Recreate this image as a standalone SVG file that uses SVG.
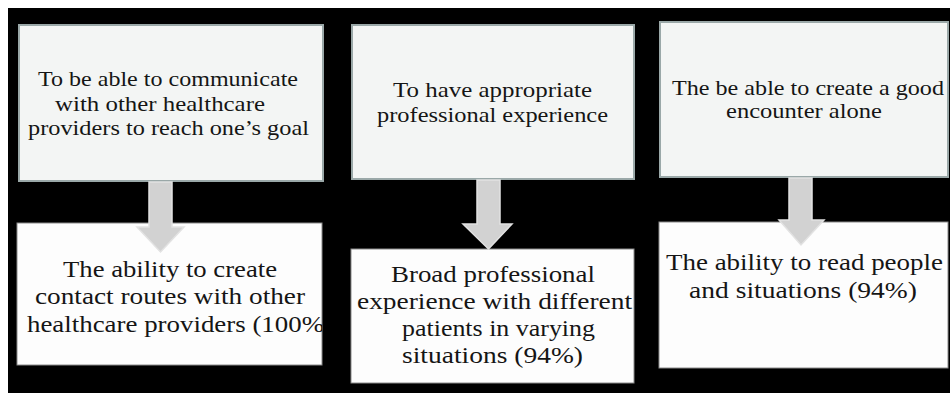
<svg xmlns="http://www.w3.org/2000/svg" width="950" height="393" viewBox="0 0 950 393">
  <defs>
    <style>
      .goal { fill: #f3f5f4; stroke: #9aa8a8; stroke-width: 2; }
      .skill { fill: #fdfdfd; stroke: #8a8a8a; stroke-width: 1; }
      .arrow { fill: #d2d2d2; stroke: #e2e2e2; stroke-width: 1.5; stroke-linejoin: miter; }
      text { font-family: "Liberation Serif", "DejaVu Serif", serif; fill: #151515; }
      .t1 { font-size: 22px; }
      .t2 { font-size: 24px; }
    </style>
    <clipPath id="clip-contact">
      <rect x="17" y="223" width="305" height="142"/>
    </clipPath>
  </defs>

  <!-- page -->
  <rect x="0" y="0" width="950" height="393" fill="#ffffff"/>
  <rect x="8" y="8" width="942" height="385" fill="#000000"/>

  <!-- top row: goals -->
  <g id="goal-communicate">
    <rect class="goal" x="19" y="25" width="304" height="156"/>
    <text class="t1" x="38" y="86" textLength="260" lengthAdjust="spacingAndGlyphs">To be able to communicate</text>
    <text class="t1" x="55" y="111" textLength="210" lengthAdjust="spacingAndGlyphs">with other healthcare</text>
    <text class="t1" x="28" y="135" textLength="281" lengthAdjust="spacingAndGlyphs">providers to reach one’s goal</text>
  </g>

  <g id="goal-experience">
    <rect class="goal" x="352" y="25" width="282" height="154"/>
    <text class="t1" x="393" y="97" textLength="199" lengthAdjust="spacingAndGlyphs">To have appropriate</text>
    <text class="t1" x="377" y="122" textLength="231" lengthAdjust="spacingAndGlyphs">professional experience</text>
  </g>

  <g id="goal-encounter">
    <rect class="goal" x="660" y="22" width="288" height="155"/>
    <text class="t1" x="672" y="95" textLength="272" lengthAdjust="spacingAndGlyphs">The be able to create a good</text>
    <text class="t1" x="726" y="118" textLength="156" lengthAdjust="spacingAndGlyphs">encounter alone</text>
  </g>

  <!-- bottom row: abilities -->
  <g id="ability-contact">
    <rect class="skill" x="17" y="223" width="305" height="142"/>
    <g clip-path="url(#clip-contact)">
      <text class="t2" x="63" y="277" textLength="214" lengthAdjust="spacingAndGlyphs">The ability to create</text>
      <text class="t2" x="35" y="304" textLength="270" lengthAdjust="spacingAndGlyphs">contact routes with other</text>
      <text class="t2" x="27" y="332" textLength="306" lengthAdjust="spacingAndGlyphs">healthcare providers (100%)</text>
    </g>
  </g>

  <g id="ability-broad">
    <rect class="skill" x="351" y="249" width="283" height="134"/>
    <text class="t2" x="391" y="282" textLength="204" lengthAdjust="spacingAndGlyphs">Broad professional</text>
    <text class="t2" x="357" y="309" textLength="275" lengthAdjust="spacingAndGlyphs">experience with different</text>
    <text class="t2" x="402" y="336" textLength="193" lengthAdjust="spacingAndGlyphs">patients in varying</text>
    <text class="t2" x="402" y="363" textLength="181" lengthAdjust="spacingAndGlyphs">situations (94%)</text>
  </g>

  <g id="ability-read">
    <rect class="skill" x="659" y="222" width="289" height="146"/>
    <text class="t2" x="666" y="270" textLength="277" lengthAdjust="spacingAndGlyphs">The ability to read people</text>
    <text class="t2" x="689" y="298" textLength="228" lengthAdjust="spacingAndGlyphs">and situations (94%)</text>
  </g>

  <!-- block arrows from each goal to its ability -->
  <g id="connectors">
    <path class="arrow" d="M149 182 H172 V227 H184 L160.5 252 L137 227 H149 Z"/>
    <path class="arrow" d="M477 180 H500 V224 H512 L488.5 249 L463 224 H477 Z"/>
    <path class="arrow" d="M789 178 H812 V220 H824 L801 245 L779 220 H789 Z"/>
  </g>
</svg>
